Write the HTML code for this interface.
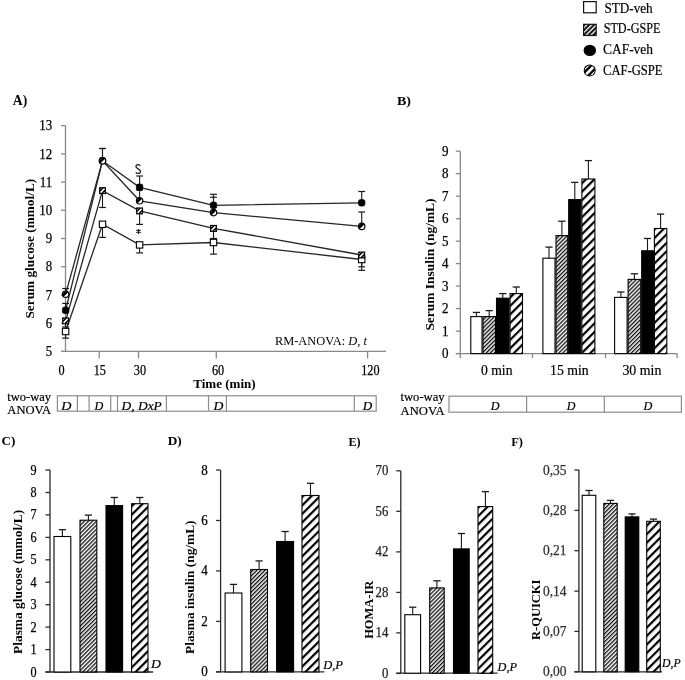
<!DOCTYPE html>
<html><head><meta charset="utf-8"><title>Figure</title>
<style>
html,body{margin:0;padding:0;background:#fff;}
body{width:685px;height:680px;overflow:hidden;}
svg{display:block;font-family:"Liberation Serif",serif;will-change:transform;}
</style></head><body>
<svg width="685" height="680" viewBox="0 0 685 680">
<defs>
<pattern id="fine" patternUnits="userSpaceOnUse" width="2.85" height="2.85" patternTransform="rotate(45)">
<rect width="2.85" height="2.85" fill="#fff"/><rect x="0" y="0" width="1.35" height="2.85" fill="#111"/></pattern>
<pattern id="wide" patternUnits="userSpaceOnUse" width="6" height="6" patternTransform="rotate(45)">
<rect width="6" height="6" fill="#fff"/><rect x="0" y="0" width="2.2" height="6" fill="#000"/></pattern>
<pattern id="legfine" patternUnits="userSpaceOnUse" width="3.4" height="3.4" patternTransform="rotate(45)">
<rect width="3.4" height="3.4" fill="#111"/><rect x="0" y="0" width="1.3" height="3.4" fill="#fff"/></pattern>
<pattern id="mk" patternUnits="userSpaceOnUse" width="3" height="3" patternTransform="rotate(45)">
<rect width="3" height="3" fill="#fff"/><rect x="0" y="0" width="1.2" height="3" fill="#000"/></pattern>
<pattern id="mkw" patternUnits="userSpaceOnUse" width="4.6" height="4.6" patternTransform="rotate(45)">
<rect width="4.6" height="4.6" fill="#fff"/><rect x="0" y="0" width="2.3" height="4.6" fill="#000"/></pattern>
</defs>
<rect width="685" height="680" fill="#fff"/>

<rect x="583.6" y="1.6" width="12.6" height="11.2" fill="#fff" stroke="#111" stroke-width="1.2"/>
<rect x="583.6" y="24.3" width="12.6" height="11.2" fill="url(#legfine)" stroke="#111" stroke-width="1.2"/>
<ellipse cx="589.8" cy="50.4" rx="6.2" ry="5.7" fill="#000"/>
<clipPath id="lc"><circle cx="589.7" cy="70.6" r="5.0"/></clipPath>
<circle cx="589.7" cy="70.6" r="6.0" fill="#000"/>
<g clip-path="url(#lc)" stroke="#fff" fill="none"><line x1="583.7" y1="76.6" x2="595.7" y2="64.6" stroke-width="2.7"/><line x1="580.6" y1="73.5" x2="592.6" y2="61.5" stroke-width="1.3"/><line x1="586.8" y1="79.7" x2="598.8" y2="67.7" stroke-width="1.3"/></g>
<text x="604.4" y="13.1" font-size="13.8" textLength="48.3" lengthAdjust="spacingAndGlyphs" fill="#000" stroke="#000" stroke-width="0.2">STD-veh</text>
<text x="603.7" y="33.2" font-size="13.8" textLength="56.7" lengthAdjust="spacingAndGlyphs" fill="#000" stroke="#000" stroke-width="0.2">STD-GSPE</text>
<text x="603.0" y="53.5" font-size="13.8" textLength="50.0" lengthAdjust="spacingAndGlyphs" fill="#000" stroke="#000" stroke-width="0.2">CAF-veh</text>
<text x="603.0" y="75.2" font-size="13.8" textLength="59.5" lengthAdjust="spacingAndGlyphs" fill="#000" stroke="#000" stroke-width="0.2">CAF-GSPE</text>
<text x="12.8" y="104.7" font-size="13.8" font-weight="bold" textLength="14.4" lengthAdjust="spacingAndGlyphs" fill="#000">A)</text>
<line x1="65.5" y1="125.6" x2="65.5" y2="351.4" stroke="#888888" stroke-width="1.3"/>
<line x1="61.0" y1="351.4" x2="65.5" y2="351.4" stroke="#888888" stroke-width="1.3"/>
<text x="52.2" y="356.0" font-size="14" text-anchor="end" textLength="6.4" lengthAdjust="spacingAndGlyphs" fill="#000" stroke="#000" stroke-width="0.25">5</text>
<line x1="61.0" y1="323.2" x2="65.5" y2="323.2" stroke="#888888" stroke-width="1.3"/>
<text x="52.2" y="327.8" font-size="14" text-anchor="end" textLength="6.4" lengthAdjust="spacingAndGlyphs" fill="#000" stroke="#000" stroke-width="0.25">6</text>
<line x1="61.0" y1="295.0" x2="65.5" y2="295.0" stroke="#888888" stroke-width="1.3"/>
<text x="52.2" y="299.6" font-size="14" text-anchor="end" textLength="6.4" lengthAdjust="spacingAndGlyphs" fill="#000" stroke="#000" stroke-width="0.25">7</text>
<line x1="61.0" y1="266.7" x2="65.5" y2="266.7" stroke="#888888" stroke-width="1.3"/>
<text x="52.2" y="271.3" font-size="14" text-anchor="end" textLength="6.4" lengthAdjust="spacingAndGlyphs" fill="#000" stroke="#000" stroke-width="0.25">8</text>
<line x1="61.0" y1="238.5" x2="65.5" y2="238.5" stroke="#888888" stroke-width="1.3"/>
<text x="52.2" y="243.1" font-size="14" text-anchor="end" textLength="6.4" lengthAdjust="spacingAndGlyphs" fill="#000" stroke="#000" stroke-width="0.25">9</text>
<line x1="61.0" y1="210.3" x2="65.5" y2="210.3" stroke="#888888" stroke-width="1.3"/>
<text x="52.2" y="214.9" font-size="14" text-anchor="end" textLength="12.9" lengthAdjust="spacingAndGlyphs" fill="#000" stroke="#000" stroke-width="0.25">10</text>
<line x1="61.0" y1="182.1" x2="65.5" y2="182.1" stroke="#888888" stroke-width="1.3"/>
<text x="52.2" y="186.7" font-size="14" text-anchor="end" textLength="12.4" lengthAdjust="spacingAndGlyphs" fill="#000" stroke="#000" stroke-width="0.25">11</text>
<line x1="61.0" y1="153.9" x2="65.5" y2="153.9" stroke="#888888" stroke-width="1.3"/>
<text x="52.2" y="158.5" font-size="14" text-anchor="end" textLength="12.9" lengthAdjust="spacingAndGlyphs" fill="#000" stroke="#000" stroke-width="0.25">12</text>
<line x1="61.0" y1="125.6" x2="65.5" y2="125.6" stroke="#888888" stroke-width="1.3"/>
<text x="52.2" y="130.2" font-size="14" text-anchor="end" textLength="12.9" lengthAdjust="spacingAndGlyphs" fill="#000" stroke="#000" stroke-width="0.25">13</text>
<line x1="61.0" y1="351.4" x2="386.0" y2="351.4" stroke="#888888" stroke-width="1.3"/>
<line x1="99.2" y1="351.4" x2="99.2" y2="358.5" stroke="#888888" stroke-width="1.3"/>
<line x1="138.5" y1="351.4" x2="138.5" y2="358.5" stroke="#888888" stroke-width="1.3"/>
<line x1="216.3" y1="351.4" x2="216.3" y2="358.5" stroke="#888888" stroke-width="1.3"/>
<line x1="367.6" y1="351.4" x2="367.6" y2="358.5" stroke="#888888" stroke-width="1.3"/>
<text x="61.6" y="374.8" font-size="14" text-anchor="middle" textLength="6.1" lengthAdjust="spacingAndGlyphs" fill="#000" stroke="#000" stroke-width="0.25">0</text>
<text x="99.8" y="374.8" font-size="14" text-anchor="middle" textLength="12.2" lengthAdjust="spacingAndGlyphs" fill="#000" stroke="#000" stroke-width="0.25">15</text>
<text x="139.9" y="374.8" font-size="14" text-anchor="middle" textLength="12.2" lengthAdjust="spacingAndGlyphs" fill="#000" stroke="#000" stroke-width="0.25">30</text>
<text x="218.1" y="374.8" font-size="14" text-anchor="middle" textLength="12.2" lengthAdjust="spacingAndGlyphs" fill="#000" stroke="#000" stroke-width="0.25">60</text>
<text x="370.4" y="374.8" font-size="14" text-anchor="middle" textLength="18.3" lengthAdjust="spacingAndGlyphs" fill="#000" stroke="#000" stroke-width="0.25">120</text>
<text x="193.2" y="388.1" font-size="13.3" font-weight="bold" textLength="62.5" lengthAdjust="spacingAndGlyphs" fill="#000">Time (min)</text>
<text transform="translate(33.5,318.6) rotate(-90)" x="0" y="0" font-size="13" font-weight="bold" textLength="139.8" lengthAdjust="spacingAndGlyphs">Serum glucose (mmol/L)</text>
<text x="274.9" y="344.6" font-size="12.5" textLength="92" lengthAdjust="spacingAndGlyphs">RM-ANOVA: <tspan font-style="italic">D</tspan>, <tspan font-style="italic">t</tspan></text>
<polyline points="65.6,331.5 102.5,224.3 139.6,244.9 213.5,242.5 361.7,259.5" fill="none" stroke="#262626" stroke-width="1.3"/>
<polyline points="65.6,320.9 102.5,190.6 139.6,210.9 213.5,228.4 361.7,255.0" fill="none" stroke="#262626" stroke-width="1.3"/>
<polyline points="65.6,310.3 102.5,160.8 139.6,187.3 213.5,205.3 361.7,202.8" fill="none" stroke="#262626" stroke-width="1.3"/>
<polyline points="65.6,294.2 102.5,160.8 139.6,200.8 213.5,212.6 361.7,226.4" fill="none" stroke="#262626" stroke-width="1.3"/>
<line x1="65.6" y1="331.5" x2="65.6" y2="338.1" stroke="#1a1a1a" stroke-width="1.1"/>
<line x1="62.2" y1="338.1" x2="69.0" y2="338.1" stroke="#1a1a1a" stroke-width="1.2"/>
<line x1="102.5" y1="224.3" x2="102.5" y2="237.4" stroke="#1a1a1a" stroke-width="1.1"/>
<line x1="99.1" y1="237.4" x2="105.9" y2="237.4" stroke="#1a1a1a" stroke-width="1.2"/>
<line x1="139.6" y1="244.9" x2="139.6" y2="252.9" stroke="#1a1a1a" stroke-width="1.1"/>
<line x1="136.2" y1="252.9" x2="143.0" y2="252.9" stroke="#1a1a1a" stroke-width="1.2"/>
<line x1="213.5" y1="242.5" x2="213.5" y2="254.1" stroke="#1a1a1a" stroke-width="1.1"/>
<line x1="210.1" y1="254.1" x2="216.9" y2="254.1" stroke="#1a1a1a" stroke-width="1.2"/>
<line x1="361.7" y1="259.5" x2="361.7" y2="266.8" stroke="#1a1a1a" stroke-width="1.1"/>
<line x1="358.3" y1="266.8" x2="365.1" y2="266.8" stroke="#1a1a1a" stroke-width="1.2"/>
<line x1="65.6" y1="320.9" x2="65.6" y2="327.0" stroke="#1a1a1a" stroke-width="1.1"/>
<line x1="62.2" y1="327.0" x2="69.0" y2="327.0" stroke="#1a1a1a" stroke-width="1.2"/>
<line x1="102.5" y1="190.6" x2="102.5" y2="207.5" stroke="#1a1a1a" stroke-width="1.1"/>
<line x1="99.1" y1="207.5" x2="105.9" y2="207.5" stroke="#1a1a1a" stroke-width="1.2"/>
<line x1="139.6" y1="210.9" x2="139.6" y2="224.4" stroke="#1a1a1a" stroke-width="1.1"/>
<line x1="136.2" y1="224.4" x2="143.0" y2="224.4" stroke="#1a1a1a" stroke-width="1.2"/>
<line x1="213.5" y1="228.4" x2="213.5" y2="238.5" stroke="#1a1a1a" stroke-width="1.1"/>
<line x1="210.1" y1="238.5" x2="216.9" y2="238.5" stroke="#1a1a1a" stroke-width="1.2"/>
<line x1="361.7" y1="255.0" x2="361.7" y2="270.3" stroke="#1a1a1a" stroke-width="1.1"/>
<line x1="358.3" y1="270.3" x2="365.1" y2="270.3" stroke="#1a1a1a" stroke-width="1.2"/>
<line x1="65.6" y1="310.3" x2="65.6" y2="303.4" stroke="#1a1a1a" stroke-width="1.1"/>
<line x1="62.2" y1="303.4" x2="69.0" y2="303.4" stroke="#1a1a1a" stroke-width="1.2"/>
<line x1="102.5" y1="160.8" x2="102.5" y2="148.5" stroke="#1a1a1a" stroke-width="1.1"/>
<line x1="99.1" y1="148.5" x2="105.9" y2="148.5" stroke="#1a1a1a" stroke-width="1.2"/>
<line x1="139.6" y1="187.3" x2="139.6" y2="176.0" stroke="#1a1a1a" stroke-width="1.1"/>
<line x1="136.2" y1="176.0" x2="143.0" y2="176.0" stroke="#1a1a1a" stroke-width="1.2"/>
<line x1="213.5" y1="205.3" x2="213.5" y2="194.3" stroke="#1a1a1a" stroke-width="1.1"/>
<line x1="210.1" y1="194.3" x2="216.9" y2="194.3" stroke="#1a1a1a" stroke-width="1.2"/>
<line x1="361.7" y1="202.8" x2="361.7" y2="191.5" stroke="#1a1a1a" stroke-width="1.1"/>
<line x1="358.3" y1="191.5" x2="365.1" y2="191.5" stroke="#1a1a1a" stroke-width="1.2"/>
<line x1="65.6" y1="294.2" x2="65.6" y2="288.5" stroke="#1a1a1a" stroke-width="1.1"/>
<line x1="62.2" y1="288.5" x2="69.0" y2="288.5" stroke="#1a1a1a" stroke-width="1.2"/>
<line x1="102.5" y1="160.8" x2="102.5" y2="148.5" stroke="#1a1a1a" stroke-width="1.1"/>
<line x1="99.1" y1="148.5" x2="105.9" y2="148.5" stroke="#1a1a1a" stroke-width="1.2"/>
<line x1="139.6" y1="200.8" x2="139.6" y2="190.0" stroke="#1a1a1a" stroke-width="1.1"/>
<line x1="136.2" y1="190.0" x2="143.0" y2="190.0" stroke="#1a1a1a" stroke-width="1.2"/>
<line x1="213.5" y1="212.6" x2="213.5" y2="197.2" stroke="#1a1a1a" stroke-width="1.1"/>
<line x1="210.1" y1="197.2" x2="216.9" y2="197.2" stroke="#1a1a1a" stroke-width="1.2"/>
<line x1="361.7" y1="226.4" x2="361.7" y2="212.0" stroke="#1a1a1a" stroke-width="1.1"/>
<line x1="358.3" y1="212.0" x2="365.1" y2="212.0" stroke="#1a1a1a" stroke-width="1.2"/>
<rect x="62.4" y="328.3" width="6.4" height="6.4" fill="#fff" stroke="#000" stroke-width="1.1"/>
<rect x="99.3" y="221.1" width="6.4" height="6.4" fill="#fff" stroke="#000" stroke-width="1.1"/>
<rect x="136.4" y="241.7" width="6.4" height="6.4" fill="#fff" stroke="#000" stroke-width="1.1"/>
<rect x="210.3" y="239.3" width="6.4" height="6.4" fill="#fff" stroke="#000" stroke-width="1.1"/>
<rect x="358.5" y="256.3" width="6.4" height="6.4" fill="#fff" stroke="#000" stroke-width="1.1"/>
<rect x="62.10" y="317.40" width="7.0" height="7.0" fill="#000"/>
<line x1="63.60" y1="322.90" x2="67.60" y2="318.90" stroke="#fff" stroke-width="1.5"/>
<line x1="63.30" y1="319.60" x2="64.30" y2="318.60" stroke="#fff" stroke-width="1.0"/>
<line x1="66.90" y1="323.20" x2="67.90" y2="322.20" stroke="#fff" stroke-width="1.0"/>
<rect x="99.00" y="187.10" width="7.0" height="7.0" fill="#000"/>
<line x1="100.50" y1="192.60" x2="104.50" y2="188.60" stroke="#fff" stroke-width="1.5"/>
<line x1="100.20" y1="189.30" x2="101.20" y2="188.30" stroke="#fff" stroke-width="1.0"/>
<line x1="103.80" y1="192.90" x2="104.80" y2="191.90" stroke="#fff" stroke-width="1.0"/>
<rect x="136.10" y="207.40" width="7.0" height="7.0" fill="#000"/>
<line x1="137.60" y1="212.90" x2="141.60" y2="208.90" stroke="#fff" stroke-width="1.5"/>
<line x1="137.30" y1="209.60" x2="138.30" y2="208.60" stroke="#fff" stroke-width="1.0"/>
<line x1="140.90" y1="213.20" x2="141.90" y2="212.20" stroke="#fff" stroke-width="1.0"/>
<rect x="210.00" y="224.90" width="7.0" height="7.0" fill="#000"/>
<line x1="211.50" y1="230.40" x2="215.50" y2="226.40" stroke="#fff" stroke-width="1.5"/>
<line x1="211.20" y1="227.10" x2="212.20" y2="226.10" stroke="#fff" stroke-width="1.0"/>
<line x1="214.80" y1="230.70" x2="215.80" y2="229.70" stroke="#fff" stroke-width="1.0"/>
<rect x="358.20" y="251.50" width="7.0" height="7.0" fill="#000"/>
<line x1="359.70" y1="257.00" x2="363.70" y2="253.00" stroke="#fff" stroke-width="1.5"/>
<line x1="359.40" y1="253.70" x2="360.40" y2="252.70" stroke="#fff" stroke-width="1.0"/>
<line x1="363.00" y1="257.30" x2="364.00" y2="256.30" stroke="#fff" stroke-width="1.0"/>
<rect x="62.4" y="307.1" width="6.4" height="6.4" rx="2" fill="#000" stroke="#000" stroke-width="0.8"/>
<rect x="99.3" y="157.6" width="6.4" height="6.4" rx="2" fill="#000" stroke="#000" stroke-width="0.8"/>
<rect x="136.4" y="184.1" width="6.4" height="6.4" rx="2" fill="#000" stroke="#000" stroke-width="0.8"/>
<rect x="210.3" y="202.1" width="6.4" height="6.4" rx="2" fill="#000" stroke="#000" stroke-width="0.8"/>
<rect x="358.5" y="199.6" width="6.4" height="6.4" rx="2" fill="#000" stroke="#000" stroke-width="0.8"/>
<circle cx="65.60" cy="294.20" r="3.2" fill="#fff" stroke="#000" stroke-width="1.2"/>
<path d="M63.64,296.76 A3.2,3.2 0 0 1 68.16,292.24 Z" fill="#000"/>
<circle cx="102.50" cy="160.80" r="3.2" fill="#fff" stroke="#000" stroke-width="1.2"/>
<path d="M100.54,163.36 A3.2,3.2 0 0 1 105.06,158.84 Z" fill="#000"/>
<circle cx="139.60" cy="200.80" r="3.2" fill="#fff" stroke="#000" stroke-width="1.2"/>
<path d="M137.64,203.36 A3.2,3.2 0 0 1 142.16,198.84 Z" fill="#000"/>
<circle cx="213.50" cy="212.60" r="3.2" fill="#fff" stroke="#000" stroke-width="1.2"/>
<path d="M211.54,215.16 A3.2,3.2 0 0 1 216.06,210.64 Z" fill="#000"/>
<circle cx="361.70" cy="226.40" r="3.2" fill="#fff" stroke="#000" stroke-width="1.2"/>
<path d="M359.74,228.96 A3.2,3.2 0 0 1 364.26,224.44 Z" fill="#000"/>
<path d="M140.2,165.9 C139.4,164.0 135.9,164.2 135.9,166.6 C135.9,168.9 140.5,168.9 140.5,171.4 C140.5,174.0 136.6,174.0 135.8,172.2" fill="none" stroke="#1a1a1a" stroke-width="1.25"/>
<path d="M138.5,229.0 V233.9 M136.3,230.1 L140.7,232.7 M136.3,232.7 L140.7,230.1" stroke="#1a1a1a" stroke-width="1.15" fill="none"/>
<text x="7.3" y="400.9" font-size="12.5" textLength="43.8" lengthAdjust="spacingAndGlyphs" fill="#000" stroke="#000" stroke-width="0.2">two-way</text>
<text x="7.3" y="414.1" font-size="12.5" textLength="43.8" lengthAdjust="spacingAndGlyphs" fill="#000" stroke="#000" stroke-width="0.2">ANOVA</text>
<rect x="57.4" y="395.8" width="318.8" height="15.4" fill="none" stroke="#8c8c8c" stroke-width="1.2"/>
<line x1="77.4" y1="395.8" x2="77.4" y2="411.2" stroke="#8c8c8c" stroke-width="1.2"/>
<line x1="89.1" y1="395.8" x2="89.1" y2="411.2" stroke="#8c8c8c" stroke-width="1.2"/>
<line x1="110.7" y1="395.8" x2="110.7" y2="411.2" stroke="#8c8c8c" stroke-width="1.2"/>
<line x1="117.5" y1="395.8" x2="117.5" y2="411.2" stroke="#8c8c8c" stroke-width="1.2"/>
<line x1="166.4" y1="395.8" x2="166.4" y2="411.2" stroke="#8c8c8c" stroke-width="1.2"/>
<line x1="208.5" y1="395.8" x2="208.5" y2="411.2" stroke="#8c8c8c" stroke-width="1.2"/>
<line x1="226.4" y1="395.8" x2="226.4" y2="411.2" stroke="#8c8c8c" stroke-width="1.2"/>
<line x1="354.3" y1="395.8" x2="354.3" y2="411.2" stroke="#8c8c8c" stroke-width="1.2"/>
<text x="61.3" y="409.7" font-size="13" font-style="italic" textLength="10.2" lengthAdjust="spacingAndGlyphs" fill="#000" stroke="#000" stroke-width="0.2">D</text>
<text x="94.6" y="409.7" font-size="13" font-style="italic" textLength="8.8" lengthAdjust="spacingAndGlyphs" fill="#000" stroke="#000" stroke-width="0.2">D</text>
<text x="213.6" y="409.7" font-size="13" font-style="italic" textLength="9.9" lengthAdjust="spacingAndGlyphs" fill="#000" stroke="#000" stroke-width="0.2">D</text>
<text x="362.8" y="409.7" font-size="13" font-style="italic" textLength="9.5" lengthAdjust="spacingAndGlyphs" fill="#000" stroke="#000" stroke-width="0.2">D</text>
<text x="121.6" y="409.7" font-size="13" font-style="italic" textLength="40.2" lengthAdjust="spacingAndGlyphs" fill="#000" stroke="#000" stroke-width="0.2">D, DxP</text>
<text x="397.0" y="104.9" font-size="13.5" font-weight="bold" textLength="14.0" lengthAdjust="spacingAndGlyphs" fill="#000">B)</text>
<line x1="460.3" y1="151.2" x2="460.3" y2="358.0" stroke="#888888" stroke-width="1.3"/>
<line x1="455.8" y1="353.6" x2="460.3" y2="353.6" stroke="#888888" stroke-width="1.3"/>
<text x="448.6" y="358.0" font-size="13.6" text-anchor="end" textLength="6.5" lengthAdjust="spacingAndGlyphs" fill="#000" stroke="#000" stroke-width="0.25">0</text>
<line x1="455.8" y1="331.1" x2="460.3" y2="331.1" stroke="#888888" stroke-width="1.3"/>
<text x="448.6" y="335.5" font-size="13.6" text-anchor="end" textLength="6.5" lengthAdjust="spacingAndGlyphs" fill="#000" stroke="#000" stroke-width="0.25">1</text>
<line x1="455.8" y1="308.6" x2="460.3" y2="308.6" stroke="#888888" stroke-width="1.3"/>
<text x="448.6" y="313.0" font-size="13.6" text-anchor="end" textLength="6.5" lengthAdjust="spacingAndGlyphs" fill="#000" stroke="#000" stroke-width="0.25">2</text>
<line x1="455.8" y1="286.1" x2="460.3" y2="286.1" stroke="#888888" stroke-width="1.3"/>
<text x="448.6" y="290.5" font-size="13.6" text-anchor="end" textLength="6.5" lengthAdjust="spacingAndGlyphs" fill="#000" stroke="#000" stroke-width="0.25">3</text>
<line x1="455.8" y1="263.6" x2="460.3" y2="263.6" stroke="#888888" stroke-width="1.3"/>
<text x="448.6" y="268.0" font-size="13.6" text-anchor="end" textLength="6.5" lengthAdjust="spacingAndGlyphs" fill="#000" stroke="#000" stroke-width="0.25">4</text>
<line x1="455.8" y1="241.2" x2="460.3" y2="241.2" stroke="#888888" stroke-width="1.3"/>
<text x="448.6" y="245.6" font-size="13.6" text-anchor="end" textLength="6.5" lengthAdjust="spacingAndGlyphs" fill="#000" stroke="#000" stroke-width="0.25">5</text>
<line x1="455.8" y1="218.7" x2="460.3" y2="218.7" stroke="#888888" stroke-width="1.3"/>
<text x="448.6" y="223.1" font-size="13.6" text-anchor="end" textLength="6.5" lengthAdjust="spacingAndGlyphs" fill="#000" stroke="#000" stroke-width="0.25">6</text>
<line x1="455.8" y1="196.2" x2="460.3" y2="196.2" stroke="#888888" stroke-width="1.3"/>
<text x="448.6" y="200.6" font-size="13.6" text-anchor="end" textLength="6.5" lengthAdjust="spacingAndGlyphs" fill="#000" stroke="#000" stroke-width="0.25">7</text>
<line x1="455.8" y1="173.7" x2="460.3" y2="173.7" stroke="#888888" stroke-width="1.3"/>
<text x="448.6" y="178.1" font-size="13.6" text-anchor="end" textLength="6.5" lengthAdjust="spacingAndGlyphs" fill="#000" stroke="#000" stroke-width="0.25">8</text>
<line x1="455.8" y1="151.2" x2="460.3" y2="151.2" stroke="#888888" stroke-width="1.3"/>
<text x="448.6" y="155.6" font-size="13.6" text-anchor="end" textLength="6.5" lengthAdjust="spacingAndGlyphs" fill="#000" stroke="#000" stroke-width="0.25">9</text>
<line x1="455.8" y1="353.6" x2="677.1" y2="353.6" stroke="#888888" stroke-width="1.3"/>
<line x1="532.5" y1="353.6" x2="532.5" y2="358.0" stroke="#888888" stroke-width="1.3"/>
<line x1="605.5" y1="353.6" x2="605.5" y2="358.0" stroke="#888888" stroke-width="1.3"/>
<line x1="677.1" y1="353.6" x2="677.1" y2="358.0" stroke="#888888" stroke-width="1.3"/>
<text x="481.0" y="374.8" font-size="13.8" textLength="31.5" lengthAdjust="spacingAndGlyphs" fill="#000" stroke="#000" stroke-width="0.2">0 min</text>
<text x="550.1" y="374.8" font-size="13.8" textLength="38.6" lengthAdjust="spacingAndGlyphs" fill="#000" stroke="#000" stroke-width="0.2">15 min</text>
<text x="622.4" y="374.8" font-size="13.8" textLength="39.0" lengthAdjust="spacingAndGlyphs" fill="#000" stroke="#000" stroke-width="0.2">30 min</text>
<text transform="translate(433.5,330.6) rotate(-90)" x="0" y="0" font-size="13.3" font-weight="bold" textLength="132.1" lengthAdjust="spacingAndGlyphs">Serum Insulin (ng/mL)</text>
<line x1="476.4" y1="316.6" x2="476.4" y2="312.4" stroke="#1a1a1a" stroke-width="1.1"/>
<line x1="472.8" y1="312.4" x2="480.0" y2="312.4" stroke="#1a1a1a" stroke-width="1.3"/>
<rect x="470.8" y="316.6" width="11.2" height="37.0" fill="#fff" stroke="#000" stroke-width="1.1"/>
<line x1="489.2" y1="316.6" x2="489.2" y2="310.6" stroke="#1a1a1a" stroke-width="1.1"/>
<line x1="485.6" y1="310.6" x2="492.9" y2="310.6" stroke="#1a1a1a" stroke-width="1.3"/>
<rect x="483.0" y="316.6" width="12.5" height="37.0" fill="url(#fine)" stroke="#000" stroke-width="1.1"/>
<line x1="502.8" y1="298.2" x2="502.8" y2="293.6" stroke="#1a1a1a" stroke-width="1.1"/>
<line x1="499.2" y1="293.6" x2="506.4" y2="293.6" stroke="#1a1a1a" stroke-width="1.3"/>
<rect x="496.5" y="298.2" width="12.6" height="55.4" fill="#000" stroke="#000" stroke-width="1.1"/>
<line x1="516.3" y1="293.6" x2="516.3" y2="287.0" stroke="#1a1a1a" stroke-width="1.1"/>
<line x1="512.7" y1="287.0" x2="519.9" y2="287.0" stroke="#1a1a1a" stroke-width="1.3"/>
<rect x="510.1" y="293.6" width="12.4" height="60.0" fill="url(#wide)" stroke="#000" stroke-width="1.1"/>
<line x1="549.0" y1="258.2" x2="549.0" y2="247.1" stroke="#1a1a1a" stroke-width="1.1"/>
<line x1="545.4" y1="247.1" x2="552.6" y2="247.1" stroke="#1a1a1a" stroke-width="1.3"/>
<rect x="542.9" y="258.2" width="12.1" height="95.4" fill="#fff" stroke="#000" stroke-width="1.1"/>
<line x1="561.9" y1="235.6" x2="561.9" y2="221.2" stroke="#1a1a1a" stroke-width="1.1"/>
<line x1="558.2" y1="221.2" x2="565.5" y2="221.2" stroke="#1a1a1a" stroke-width="1.3"/>
<rect x="556.0" y="235.6" width="11.7" height="118.0" fill="url(#fine)" stroke="#000" stroke-width="1.1"/>
<line x1="574.8" y1="199.6" x2="574.8" y2="182.4" stroke="#1a1a1a" stroke-width="1.1"/>
<line x1="571.2" y1="182.4" x2="578.4" y2="182.4" stroke="#1a1a1a" stroke-width="1.3"/>
<rect x="568.7" y="199.6" width="12.2" height="154.0" fill="#000" stroke="#000" stroke-width="1.1"/>
<line x1="588.4" y1="179.0" x2="588.4" y2="160.6" stroke="#1a1a1a" stroke-width="1.1"/>
<line x1="584.8" y1="160.6" x2="592.0" y2="160.6" stroke="#1a1a1a" stroke-width="1.3"/>
<rect x="581.9" y="179.0" width="13.0" height="174.6" fill="url(#wide)" stroke="#000" stroke-width="1.1"/>
<line x1="620.9" y1="297.4" x2="620.9" y2="292.0" stroke="#1a1a1a" stroke-width="1.1"/>
<line x1="617.2" y1="292.0" x2="624.5" y2="292.0" stroke="#1a1a1a" stroke-width="1.3"/>
<rect x="614.6" y="297.4" width="12.5" height="56.2" fill="#fff" stroke="#000" stroke-width="1.1"/>
<line x1="634.4" y1="279.4" x2="634.4" y2="273.8" stroke="#1a1a1a" stroke-width="1.1"/>
<line x1="630.8" y1="273.8" x2="638.0" y2="273.8" stroke="#1a1a1a" stroke-width="1.3"/>
<rect x="628.1" y="279.4" width="12.6" height="74.2" fill="url(#fine)" stroke="#000" stroke-width="1.1"/>
<line x1="647.5" y1="250.8" x2="647.5" y2="238.5" stroke="#1a1a1a" stroke-width="1.1"/>
<line x1="643.9" y1="238.5" x2="651.1" y2="238.5" stroke="#1a1a1a" stroke-width="1.3"/>
<rect x="641.7" y="250.8" width="11.7" height="102.8" fill="#000" stroke="#000" stroke-width="1.1"/>
<line x1="660.6" y1="228.5" x2="660.6" y2="214.1" stroke="#1a1a1a" stroke-width="1.1"/>
<line x1="657.0" y1="214.1" x2="664.2" y2="214.1" stroke="#1a1a1a" stroke-width="1.3"/>
<rect x="654.4" y="228.5" width="12.4" height="125.1" fill="url(#wide)" stroke="#000" stroke-width="1.1"/>
<text x="400.5" y="400.9" font-size="12.5" textLength="44.1" lengthAdjust="spacingAndGlyphs" fill="#000" stroke="#000" stroke-width="0.2">two-way</text>
<text x="400.5" y="414.5" font-size="12.5" textLength="44.1" lengthAdjust="spacingAndGlyphs" fill="#000" stroke="#000" stroke-width="0.2">ANOVA</text>
<rect x="449" y="396.2" width="232.4" height="16" fill="none" stroke="#8c8c8c" stroke-width="1.2"/>
<line x1="526.6" y1="396.2" x2="526.6" y2="412.2" stroke="#8c8c8c" stroke-width="1.2"/>
<line x1="604.3" y1="396.2" x2="604.3" y2="412.2" stroke="#8c8c8c" stroke-width="1.2"/>
<text x="490.8" y="410.2" font-size="13" font-style="italic" textLength="8.8" lengthAdjust="spacingAndGlyphs" fill="#000" stroke="#000" stroke-width="0.2">D</text>
<text x="566.8" y="410.2" font-size="13" font-style="italic" textLength="8.7" lengthAdjust="spacingAndGlyphs" fill="#000" stroke="#000" stroke-width="0.2">D</text>
<text x="643.4" y="410.2" font-size="13" font-style="italic" textLength="8.8" lengthAdjust="spacingAndGlyphs" fill="#000" stroke="#000" stroke-width="0.2">D</text>
<text x="1.5" y="445.3" font-size="13.2" font-weight="bold" textLength="13.8" lengthAdjust="spacingAndGlyphs" fill="#000">C)</text>
<line x1="50.0" y1="470.0" x2="50.0" y2="672.0" stroke="#2a2a2a" stroke-width="1.3"/>
<line x1="45.5" y1="672.0" x2="50.0" y2="672.0" stroke="#2a2a2a" stroke-width="1.3"/>
<text x="36.6" y="676.5" font-size="13.6" text-anchor="end" textLength="6.1" lengthAdjust="spacingAndGlyphs" fill="#000" stroke="#000" stroke-width="0.25">0</text>
<line x1="45.5" y1="649.6" x2="50.0" y2="649.6" stroke="#2a2a2a" stroke-width="1.3"/>
<text x="36.6" y="654.1" font-size="13.6" text-anchor="end" textLength="6.1" lengthAdjust="spacingAndGlyphs" fill="#000" stroke="#000" stroke-width="0.25">1</text>
<line x1="45.5" y1="627.1" x2="50.0" y2="627.1" stroke="#2a2a2a" stroke-width="1.3"/>
<text x="36.6" y="631.6" font-size="13.6" text-anchor="end" textLength="6.1" lengthAdjust="spacingAndGlyphs" fill="#000" stroke="#000" stroke-width="0.25">2</text>
<line x1="45.5" y1="604.7" x2="50.0" y2="604.7" stroke="#2a2a2a" stroke-width="1.3"/>
<text x="36.6" y="609.2" font-size="13.6" text-anchor="end" textLength="6.1" lengthAdjust="spacingAndGlyphs" fill="#000" stroke="#000" stroke-width="0.25">3</text>
<line x1="45.5" y1="582.2" x2="50.0" y2="582.2" stroke="#2a2a2a" stroke-width="1.3"/>
<text x="36.6" y="586.7" font-size="13.6" text-anchor="end" textLength="6.1" lengthAdjust="spacingAndGlyphs" fill="#000" stroke="#000" stroke-width="0.25">4</text>
<line x1="45.5" y1="559.8" x2="50.0" y2="559.8" stroke="#2a2a2a" stroke-width="1.3"/>
<text x="36.6" y="564.3" font-size="13.6" text-anchor="end" textLength="6.1" lengthAdjust="spacingAndGlyphs" fill="#000" stroke="#000" stroke-width="0.25">5</text>
<line x1="45.5" y1="537.4" x2="50.0" y2="537.4" stroke="#2a2a2a" stroke-width="1.3"/>
<text x="36.6" y="541.9" font-size="13.6" text-anchor="end" textLength="6.1" lengthAdjust="spacingAndGlyphs" fill="#000" stroke="#000" stroke-width="0.25">6</text>
<line x1="45.5" y1="514.9" x2="50.0" y2="514.9" stroke="#2a2a2a" stroke-width="1.3"/>
<text x="36.6" y="519.4" font-size="13.6" text-anchor="end" textLength="6.1" lengthAdjust="spacingAndGlyphs" fill="#000" stroke="#000" stroke-width="0.25">7</text>
<line x1="45.5" y1="492.5" x2="50.0" y2="492.5" stroke="#2a2a2a" stroke-width="1.3"/>
<text x="36.6" y="497.0" font-size="13.6" text-anchor="end" textLength="6.1" lengthAdjust="spacingAndGlyphs" fill="#000" stroke="#000" stroke-width="0.25">8</text>
<line x1="45.5" y1="470.0" x2="50.0" y2="470.0" stroke="#2a2a2a" stroke-width="1.3"/>
<text x="36.6" y="474.5" font-size="13.6" text-anchor="end" textLength="6.1" lengthAdjust="spacingAndGlyphs" fill="#000" stroke="#000" stroke-width="0.25">9</text>
<line x1="45.5" y1="672.0" x2="153.2" y2="672.0" stroke="#2a2a2a" stroke-width="1.3"/>
<line x1="62.4" y1="536.5" x2="62.4" y2="529.7" stroke="#1a1a1a" stroke-width="1.1"/>
<line x1="58.8" y1="529.7" x2="66.0" y2="529.7" stroke="#1a1a1a" stroke-width="1.3"/>
<rect x="54.0" y="536.5" width="16.8" height="135.5" fill="#fff" stroke="#000" stroke-width="1.1"/>
<line x1="88.4" y1="520.2" x2="88.4" y2="515.1" stroke="#1a1a1a" stroke-width="1.1"/>
<line x1="84.8" y1="515.1" x2="92.0" y2="515.1" stroke="#1a1a1a" stroke-width="1.3"/>
<rect x="80.0" y="520.2" width="16.8" height="151.8" fill="url(#fine)" stroke="#000" stroke-width="1.1"/>
<line x1="114.3" y1="505.6" x2="114.3" y2="497.5" stroke="#1a1a1a" stroke-width="1.1"/>
<line x1="110.7" y1="497.5" x2="117.9" y2="497.5" stroke="#1a1a1a" stroke-width="1.3"/>
<rect x="106.0" y="505.6" width="16.6" height="166.4" fill="#000" stroke="#000" stroke-width="1.1"/>
<line x1="139.8" y1="503.7" x2="139.8" y2="497.5" stroke="#1a1a1a" stroke-width="1.1"/>
<line x1="136.2" y1="497.5" x2="143.4" y2="497.5" stroke="#1a1a1a" stroke-width="1.3"/>
<rect x="131.6" y="503.7" width="16.4" height="168.3" fill="url(#wide)" stroke="#000" stroke-width="1.1"/>
<text x="150.9" y="668.0" font-size="13" font-style="italic" textLength="9.9" lengthAdjust="spacingAndGlyphs" fill="#000" stroke="#000" stroke-width="0.2">D</text>
<text transform="translate(21.8,653.9) rotate(-90)" x="0" y="0" font-size="13.3" font-weight="bold" textLength="144.1" lengthAdjust="spacingAndGlyphs">Plasma glucose (mmol/L)</text>
<text x="167.7" y="444.7" font-size="13.2" font-weight="bold" textLength="14.1" lengthAdjust="spacingAndGlyphs" fill="#000">D)</text>
<line x1="220.6" y1="470.0" x2="220.6" y2="671.9" stroke="#2a2a2a" stroke-width="1.3"/>
<line x1="216.1" y1="671.9" x2="220.6" y2="671.9" stroke="#2a2a2a" stroke-width="1.3"/>
<text x="207.8" y="676.4" font-size="13.6" text-anchor="end" textLength="6.5" lengthAdjust="spacingAndGlyphs" fill="#000" stroke="#000" stroke-width="0.25">0</text>
<line x1="216.1" y1="621.4" x2="220.6" y2="621.4" stroke="#2a2a2a" stroke-width="1.3"/>
<text x="207.8" y="625.9" font-size="13.6" text-anchor="end" textLength="6.5" lengthAdjust="spacingAndGlyphs" fill="#000" stroke="#000" stroke-width="0.25">2</text>
<line x1="216.1" y1="570.9" x2="220.6" y2="570.9" stroke="#2a2a2a" stroke-width="1.3"/>
<text x="207.8" y="575.4" font-size="13.6" text-anchor="end" textLength="6.5" lengthAdjust="spacingAndGlyphs" fill="#000" stroke="#000" stroke-width="0.25">4</text>
<line x1="216.1" y1="520.5" x2="220.6" y2="520.5" stroke="#2a2a2a" stroke-width="1.3"/>
<text x="207.8" y="525.0" font-size="13.6" text-anchor="end" textLength="6.5" lengthAdjust="spacingAndGlyphs" fill="#000" stroke="#000" stroke-width="0.25">6</text>
<line x1="216.1" y1="470.0" x2="220.6" y2="470.0" stroke="#2a2a2a" stroke-width="1.3"/>
<text x="207.8" y="474.5" font-size="13.6" text-anchor="end" textLength="6.5" lengthAdjust="spacingAndGlyphs" fill="#000" stroke="#000" stroke-width="0.25">8</text>
<line x1="216.1" y1="671.9" x2="324.3" y2="671.9" stroke="#2a2a2a" stroke-width="1.3"/>
<line x1="233.5" y1="593.0" x2="233.5" y2="584.4" stroke="#1a1a1a" stroke-width="1.1"/>
<line x1="229.9" y1="584.4" x2="237.1" y2="584.4" stroke="#1a1a1a" stroke-width="1.3"/>
<rect x="225.1" y="593.0" width="16.8" height="78.9" fill="#fff" stroke="#000" stroke-width="1.1"/>
<line x1="259.1" y1="569.5" x2="259.1" y2="560.9" stroke="#1a1a1a" stroke-width="1.1"/>
<line x1="255.5" y1="560.9" x2="262.7" y2="560.9" stroke="#1a1a1a" stroke-width="1.3"/>
<rect x="250.7" y="569.5" width="16.8" height="102.4" fill="url(#fine)" stroke="#000" stroke-width="1.1"/>
<line x1="285.1" y1="541.5" x2="285.1" y2="531.5" stroke="#1a1a1a" stroke-width="1.1"/>
<line x1="281.5" y1="531.5" x2="288.7" y2="531.5" stroke="#1a1a1a" stroke-width="1.3"/>
<rect x="276.6" y="541.5" width="17.0" height="130.4" fill="#000" stroke="#000" stroke-width="1.1"/>
<line x1="310.5" y1="495.5" x2="310.5" y2="483.3" stroke="#1a1a1a" stroke-width="1.1"/>
<line x1="306.9" y1="483.3" x2="314.1" y2="483.3" stroke="#1a1a1a" stroke-width="1.3"/>
<rect x="302.0" y="495.5" width="17.0" height="176.4" fill="url(#wide)" stroke="#000" stroke-width="1.1"/>
<text x="323.2" y="669.0" font-size="13" font-style="italic" textLength="19.8" lengthAdjust="spacingAndGlyphs" fill="#000" stroke="#000" stroke-width="0.2">D,P</text>
<text transform="translate(193.5,653.9) rotate(-90)" x="0" y="0" font-size="13.2" font-weight="bold" textLength="133.4" lengthAdjust="spacingAndGlyphs">Plasma insulin (ng/mL)</text>
<text x="348.5" y="445.9" font-size="13.2" font-weight="bold" textLength="12.1" lengthAdjust="spacingAndGlyphs" fill="#000">E)</text>
<line x1="400.8" y1="470.9" x2="400.8" y2="673.2" stroke="#2a2a2a" stroke-width="1.3"/>
<line x1="396.3" y1="673.4" x2="400.8" y2="673.4" stroke="#2a2a2a" stroke-width="1.3"/>
<text x="388.4" y="677.9" font-size="13.6" text-anchor="end" textLength="6.4" lengthAdjust="spacingAndGlyphs" fill="#222" stroke="#222" stroke-width="0.25">0</text>
<line x1="396.3" y1="632.9" x2="400.8" y2="632.9" stroke="#2a2a2a" stroke-width="1.3"/>
<text x="388.4" y="637.4" font-size="13.6" text-anchor="end" textLength="12.8" lengthAdjust="spacingAndGlyphs" fill="#222" stroke="#222" stroke-width="0.25">14</text>
<line x1="396.3" y1="592.4" x2="400.8" y2="592.4" stroke="#2a2a2a" stroke-width="1.3"/>
<text x="388.4" y="596.9" font-size="13.6" text-anchor="end" textLength="12.8" lengthAdjust="spacingAndGlyphs" fill="#222" stroke="#222" stroke-width="0.25">28</text>
<line x1="396.3" y1="551.9" x2="400.8" y2="551.9" stroke="#2a2a2a" stroke-width="1.3"/>
<text x="388.4" y="556.4" font-size="13.6" text-anchor="end" textLength="12.8" lengthAdjust="spacingAndGlyphs" fill="#222" stroke="#222" stroke-width="0.25">42</text>
<line x1="396.3" y1="511.3" x2="400.8" y2="511.3" stroke="#2a2a2a" stroke-width="1.3"/>
<text x="388.4" y="515.8" font-size="13.6" text-anchor="end" textLength="12.8" lengthAdjust="spacingAndGlyphs" fill="#222" stroke="#222" stroke-width="0.25">56</text>
<line x1="396.3" y1="470.8" x2="400.8" y2="470.8" stroke="#2a2a2a" stroke-width="1.3"/>
<text x="388.4" y="475.3" font-size="13.6" text-anchor="end" textLength="12.8" lengthAdjust="spacingAndGlyphs" fill="#222" stroke="#222" stroke-width="0.25">70</text>
<line x1="396.3" y1="673.2" x2="497.6" y2="673.2" stroke="#2a2a2a" stroke-width="1.3"/>
<line x1="412.7" y1="614.7" x2="412.7" y2="607.2" stroke="#1a1a1a" stroke-width="1.1"/>
<line x1="409.1" y1="607.2" x2="416.3" y2="607.2" stroke="#1a1a1a" stroke-width="1.3"/>
<rect x="404.8" y="614.7" width="15.8" height="58.5" fill="#fff" stroke="#000" stroke-width="1.1"/>
<line x1="436.9" y1="587.9" x2="436.9" y2="580.8" stroke="#1a1a1a" stroke-width="1.1"/>
<line x1="433.3" y1="580.8" x2="440.6" y2="580.8" stroke="#1a1a1a" stroke-width="1.3"/>
<rect x="429.7" y="587.9" width="14.5" height="85.3" fill="url(#fine)" stroke="#000" stroke-width="1.1"/>
<line x1="461.4" y1="548.9" x2="461.4" y2="533.5" stroke="#1a1a1a" stroke-width="1.1"/>
<line x1="457.8" y1="533.5" x2="465.0" y2="533.5" stroke="#1a1a1a" stroke-width="1.3"/>
<rect x="453.5" y="548.9" width="15.7" height="124.3" fill="#000" stroke="#000" stroke-width="1.1"/>
<line x1="485.4" y1="506.6" x2="485.4" y2="491.6" stroke="#1a1a1a" stroke-width="1.1"/>
<line x1="481.8" y1="491.6" x2="489.0" y2="491.6" stroke="#1a1a1a" stroke-width="1.3"/>
<rect x="478.0" y="506.6" width="14.7" height="166.6" fill="url(#wide)" stroke="#000" stroke-width="1.1"/>
<text x="497.6" y="671.0" font-size="13" font-style="italic" textLength="19.4" lengthAdjust="spacingAndGlyphs" fill="#000" stroke="#000" stroke-width="0.2">D,P</text>
<text transform="translate(372.6,638.8) rotate(-90)" x="0" y="0" font-size="13.3" font-weight="bold" textLength="58.0" lengthAdjust="spacingAndGlyphs">HOMA-IR</text>
<text x="511.2" y="445.9" font-size="13.2" font-weight="bold" textLength="11.8" lengthAdjust="spacingAndGlyphs" fill="#000">F)</text>
<line x1="578.9" y1="470.0" x2="578.9" y2="671.8" stroke="#2a2a2a" stroke-width="1.3"/>
<line x1="574.4" y1="671.8" x2="578.9" y2="671.8" stroke="#2a2a2a" stroke-width="1.3"/>
<text x="566.6" y="676.3" font-size="13.6" text-anchor="end" textLength="23.6" lengthAdjust="spacingAndGlyphs" fill="#333" stroke="#333" stroke-width="0.25">0,00</text>
<line x1="574.4" y1="631.4" x2="578.9" y2="631.4" stroke="#2a2a2a" stroke-width="1.3"/>
<text x="566.6" y="635.9" font-size="13.6" text-anchor="end" textLength="23.6" lengthAdjust="spacingAndGlyphs" fill="#333" stroke="#333" stroke-width="0.25">0,07</text>
<line x1="574.4" y1="591.1" x2="578.9" y2="591.1" stroke="#2a2a2a" stroke-width="1.3"/>
<text x="566.6" y="595.6" font-size="13.6" text-anchor="end" textLength="23.6" lengthAdjust="spacingAndGlyphs" fill="#333" stroke="#333" stroke-width="0.25">0,14</text>
<line x1="574.4" y1="550.7" x2="578.9" y2="550.7" stroke="#2a2a2a" stroke-width="1.3"/>
<text x="566.6" y="555.2" font-size="13.6" text-anchor="end" textLength="23.6" lengthAdjust="spacingAndGlyphs" fill="#333" stroke="#333" stroke-width="0.25">0,21</text>
<line x1="574.4" y1="510.4" x2="578.9" y2="510.4" stroke="#2a2a2a" stroke-width="1.3"/>
<text x="566.6" y="514.9" font-size="13.6" text-anchor="end" textLength="23.6" lengthAdjust="spacingAndGlyphs" fill="#333" stroke="#333" stroke-width="0.25">0,28</text>
<line x1="574.4" y1="470.0" x2="578.9" y2="470.0" stroke="#2a2a2a" stroke-width="1.3"/>
<text x="566.6" y="474.5" font-size="13.6" text-anchor="end" textLength="23.6" lengthAdjust="spacingAndGlyphs" fill="#333" stroke="#333" stroke-width="0.25">0,35</text>
<line x1="574.4" y1="671.8" x2="662.0" y2="671.8" stroke="#2a2a2a" stroke-width="1.3"/>
<line x1="589.0" y1="495.3" x2="589.0" y2="490.5" stroke="#1a1a1a" stroke-width="1.1"/>
<line x1="585.4" y1="490.5" x2="592.6" y2="490.5" stroke="#1a1a1a" stroke-width="1.3"/>
<rect x="582.2" y="495.3" width="13.6" height="176.5" fill="#fff" stroke="#000" stroke-width="1.1"/>
<line x1="610.5" y1="503.4" x2="610.5" y2="500.4" stroke="#1a1a1a" stroke-width="1.1"/>
<line x1="606.9" y1="500.4" x2="614.1" y2="500.4" stroke="#1a1a1a" stroke-width="1.3"/>
<rect x="603.8" y="503.4" width="13.4" height="168.4" fill="url(#fine)" stroke="#000" stroke-width="1.1"/>
<line x1="632.0" y1="516.9" x2="632.0" y2="513.9" stroke="#1a1a1a" stroke-width="1.1"/>
<line x1="628.4" y1="513.9" x2="635.6" y2="513.9" stroke="#1a1a1a" stroke-width="1.3"/>
<rect x="625.2" y="516.9" width="13.6" height="154.9" fill="#000" stroke="#000" stroke-width="1.1"/>
<line x1="653.5" y1="521.3" x2="653.5" y2="519.1" stroke="#1a1a1a" stroke-width="1.1"/>
<line x1="649.9" y1="519.1" x2="657.1" y2="519.1" stroke="#1a1a1a" stroke-width="1.3"/>
<rect x="646.7" y="521.3" width="13.6" height="150.5" fill="url(#wide)" stroke="#000" stroke-width="1.1"/>
<text x="662.0" y="667.0" font-size="13" font-style="italic" textLength="18.6" lengthAdjust="spacingAndGlyphs" fill="#000" stroke="#000" stroke-width="0.2">D,P</text>
<text transform="translate(539.6,640.0) rotate(-90)" x="0" y="0" font-size="13.3" font-weight="bold" textLength="60.4" lengthAdjust="spacingAndGlyphs">R-QUICKI</text>
</svg>
</body></html>
